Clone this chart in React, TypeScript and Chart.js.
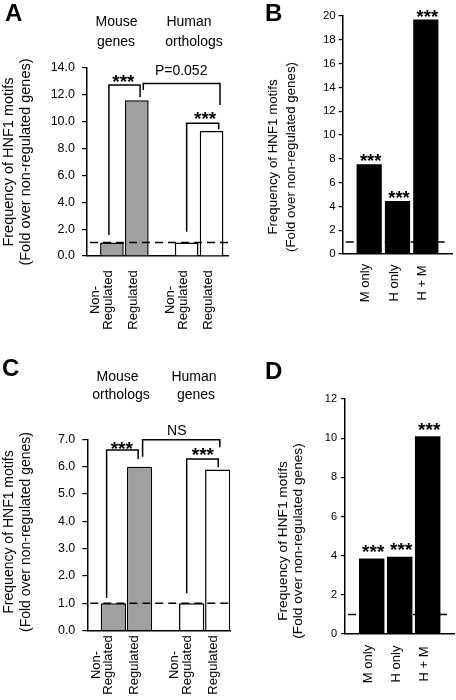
import React, { useEffect, useRef } from "react";
import { Chart, registerables } from "chart.js";

Chart.register(...registerables);

const FONT = "'Liberation Sans', Arial, Helvetica, sans-serif";

// ---------- data ----------
const Y_TITLE = ["Frequency of HNF1 motifs", "(Fold over non-regulated genes)"];
const REFERENCE_FOLD = 1; // dashed line

// Panel A: mouse genes vs human orthologs
const A_HEADINGS = [["Mouse", "genes"], ["Human", "orthologs"]];
const A_LABELS = [["Non-", "Regulated"], ["Regulated"], ["Non-", "Regulated"], ["Regulated"]];
const A_SLOTS = [1, 2, 4, 5];
const A_VALUES = [1.0, 11.6, 1.0, 9.3];
const A_FILLS = ["#a0a0a0", "#a0a0a0", "#ffffff", "#ffffff"];

// Panel B: genes with motifs in mouse only, human only, both
const B_LABELS = [["M only"], ["H only"], ["H + M"]];
const B_SLOTS = [1, 2, 3];
const B_VALUES = [7.55, 4.45, 19.7];

// Panel C: mouse orthologs vs human genes
const C_HEADINGS = [["Mouse", "orthologs"], ["Human", "genes"]];
const C_LABELS = [["Non-", "Regulated"], ["Regulated"], ["Non-", "Regulated"], ["Regulated"]];
const C_SLOTS = [1, 2, 4, 5];
const C_VALUES = [1.0, 6.0, 1.0, 5.9];
const C_FILLS = ["#a0a0a0", "#a0a0a0", "#ffffff", "#ffffff"];

// Panel D
const D_LABELS = [["M only"], ["H only"], ["H + M"]];
const D_SLOTS = [1, 2, 3];
const D_VALUES = [3.85, 3.95, 10.1];

const STARS = "***";

// ---------- panel specs (layout / annotations) ----------
type Bracket = { x1: number; x2: number; top: number; lb: number; rb: number };
type Note = { text: string; x: number; y: number; dy?: number; dx?: number; size: number; bold?: boolean };

const W = 456;
const H = 700;

const SPECS: any[] = [
  {
    letter: "A", letterX: 5, letterY: 21,
    area: { left: 87, right: 228, top: 68, bottom: 256 },
    xMin: 0, xMax: 5.66, yMax: 14, yStep: 2, dec: 1,
    slots: A_SLOTS, values: A_VALUES, fills: A_FILLS, borderWidth: 1.5, barPct: 0.95,
    labels: A_LABELS, labelSize: 13, labelCY: 300, labelGap: 12.5, labelDx: 0,
    headings: A_HEADINGS, headX: [[116.5, 116], [189, 194]], headY: [26, 46], headSize: 14,
    titleX: [12.5, 30], titleCY: 162, titleSize: 14.5,
    tickSize: 12.5, tickLen: 5, tickPad: 7,
    dashInset: 0,
    brackets: [
      { x1: 0.88, x2: 2.13, top: 12.73, lb: 1.56, rb: 11.84 },
      { x1: 2.26, x2: 5.34, top: 12.84, lb: 12.36, rb: 11.24 },
      { x1: 4.0, x2: 5.29, top: 9.88, lb: 1.81, rb: 9.43 },
    ] as Bracket[],
    notes: [
      { text: STARS, x: 1.46, y: 12.51, size: 19, bold: true },
      { text: "P=0.052", x: 3.78, y: 13.48, size: 14 },
      { text: STARS, x: 4.74, y: 9.75, size: 19, bold: true },
    ] as Note[],
  },
  {
    letter: "B", letterX: 265, letterY: 21,
    area: { left: 342.7, right: 452.7, top: 16, bottom: 254 },
    xMin: 0.064, xMax: 3.95, yMax: 20, yStep: 2, dec: 0,
    slots: B_SLOTS, values: B_VALUES, fills: ["#000", "#000", "#000"], borderWidth: 0, barPct: 0.89,
    labels: B_LABELS, labelSize: 13, labelCY: 283, labelGap: 12.5, labelDx: 0,
    headings: [], headX: [], headY: [], headSize: 14,
    titleX: [277.3, 295.2], titleCY: 157, titleSize: 13.3,
    tickSize: 11.5, tickLen: 4, tickPad: 3,
    dashInset: 7,
    brackets: [] as Bracket[],
    notes: B_SLOTS.map((s, i) => ({ text: STARS, x: s, y: B_VALUES[i], dy: 3, dx: 1.5, size: 18.5, bold: true })) as Note[],
  },
  {
    letter: "C", letterX: 2, letterY: 376,
    area: { left: 87.3, right: 230, top: 439.3, bottom: 630.7 },
    xMin: 0, xMax: 5.47, yMax: 7, yStep: 1, dec: 1,
    slots: C_SLOTS, values: C_VALUES, fills: C_FILLS, borderWidth: 1.5, barPct: 0.97,
    labels: C_LABELS, labelSize: 13, labelCY: 665, labelGap: 12.5, labelDx: -1,
    headings: C_HEADINGS, headX: [[117.5, 121], [194, 196]], headY: [381, 399], headSize: 14,
    titleX: [12.5, 30], titleCY: 532, titleSize: 14,
    tickSize: 12.5, tickLen: 5, tickPad: 7,
    dashInset: 0,
    brackets: [
      { x1: 0.74, x2: 1.95, top: 6.61, lb: 1.2, rb: 6.27 },
      { x1: 2.12, x2: 5.08, top: 6.98, lb: 6.36, rb: 6.71 },
      { x1: 3.81, x2: 5.02, top: 6.28, lb: 1.37, rb: 5.98 },
    ] as Bracket[],
    notes: [
      { text: STARS, x: 1.32, y: 6.44, size: 19, bold: true },
      { text: "NS", x: 3.43, y: 7.16, size: 14 },
      { text: STARS, x: 4.43, y: 6.19, size: 19, bold: true },
    ] as Note[],
  },
  {
    letter: "D", letterX: 265, letterY: 379,
    area: { left: 345, right: 454, top: 399, bottom: 634 },
    xMin: 0.046, xMax: 3.94, yMax: 12, yStep: 2, dec: 0,
    slots: D_SLOTS, values: D_VALUES, fills: ["#000", "#000", "#000"], borderWidth: 0, barPct: 0.91,
    labels: D_LABELS, labelSize: 13, labelCY: 664, labelGap: 12.5, labelDx: 0,
    headings: [], headX: [], headY: [], headSize: 14,
    titleX: [287, 302], titleCY: 541, titleSize: 13.7,
    tickSize: 11, tickLen: 4, tickPad: 4,
    dashInset: 7,
    brackets: [] as Bracket[],
    notes: D_SLOTS.map((s, i) => ({ text: STARS, x: s, y: D_VALUES[i], dy: -0.5, dx: 1.5, size: 19, bold: true })) as Note[],
  },
];

function annotations(s: any) {
  return {
    id: "annot" + s.letter,
    afterDatasetsDraw(chart: any) {
      const { ctx, chartArea, scales } = chart;
      const yy = scales.y.getPixelForValue(REFERENCE_FOLD);
      ctx.save();
      ctx.strokeStyle = "#000";
      ctx.lineWidth = 1.5;
      ctx.setLineDash([8, 5]);
      ctx.beginPath();
      ctx.moveTo(chartArea.left + 3, yy);
      ctx.lineTo(chartArea.right - s.dashInset, yy);
      ctx.stroke();
      ctx.restore();
    },
    afterDraw(chart: any) {
      const { ctx, scales } = chart;
      const x = scales.x;
      const y = scales.y;
      ctx.save();
      ctx.fillStyle = "#000";
      ctx.strokeStyle = "#000";
      // brackets
      ctx.lineWidth = 1.5;
      ctx.setLineDash([]);
      s.brackets.forEach((b: Bracket) => {
        const x1 = x.getPixelForValue(b.x1);
        const x2 = x.getPixelForValue(b.x2);
        ctx.beginPath();
        ctx.moveTo(x1, y.getPixelForValue(b.lb));
        ctx.lineTo(x1, y.getPixelForValue(b.top));
        ctx.lineTo(x2, y.getPixelForValue(b.top));
        ctx.lineTo(x2, y.getPixelForValue(b.rb));
        ctx.stroke();
      });
      // notes (stars, p-values)
      ctx.textAlign = "center";
      ctx.textBaseline = "alphabetic";
      s.notes.forEach((n: Note) => {
        ctx.font = `${n.bold ? "bold " : ""}${n.size}px ${FONT}`;
        ctx.fillText(n.text, x.getPixelForValue(n.x) + (n.dx || 0), y.getPixelForValue(n.y) + (n.dy || 0));
      });
      // rotated category labels
      ctx.font = `${s.labelSize}px ${FONT}`;
      s.labels.forEach((lines: string[], i: number) => {
        const px = x.getPixelForValue(s.slots[i]) + s.labelDx;
        lines.forEach((t: string, j: number) => {
          const off = (lines.length - 1 - j) * s.labelGap;
          ctx.save();
          ctx.translate(px - off, s.labelCY);
          ctx.rotate(-Math.PI / 2);
          ctx.fillText(t, 0, 0);
          ctx.restore();
        });
      });
      // group headings
      ctx.font = `${s.headSize}px ${FONT}`;
      s.headings.forEach((lines: string[], g: number) => {
        lines.forEach((t: string, j: number) => {
          ctx.fillText(t, s.headX[g][j], s.headY[j]);
        });
      });
      // y title
      ctx.font = `${s.titleSize}px ${FONT}`;
      Y_TITLE.forEach((t, j) => {
        ctx.save();
        ctx.translate(s.titleX[j], s.titleCY);
        ctx.rotate(-Math.PI / 2);
        ctx.fillText(t, 0, 0);
        ctx.restore();
      });
      // panel letter
      ctx.textAlign = "left";
      ctx.font = `bold 24px ${FONT}`;
      ctx.fillText(s.letter, s.letterX, s.letterY);
      ctx.restore();
    },
  };
}

function makeConfig(s: any): any {
  const YW = 40;
  const XH = 10;
  return {
    type: "bar",
    data: {
      datasets: [
        {
          data: s.slots.map((v: number, i: number) => ({ x: v, y: s.values[i] })),
          backgroundColor: s.fills,
          borderColor: "#000",
          borderWidth: s.borderWidth,
          barPercentage: s.barPct,
          categoryPercentage: 1,
        },
      ],
    },
    options: {
      animation: false,
      responsive: false,
      devicePixelRatio: 1,
      events: [],
      layout: {
        padding: {
          left: s.area.left - YW,
          right: W - s.area.right,
          top: s.area.top,
          bottom: H - s.area.bottom - XH,
        },
      },
      plugins: { legend: { display: false }, tooltip: { enabled: false } },
      scales: {
        x: {
          type: "linear",
          offset: false,
          min: s.xMin,
          max: s.xMax,
          afterBuildTicks: (sc: any) => {
            sc.ticks = s.slots.map((v: number) => ({ value: v }));
          },
          afterFit: (sc: any) => {
            sc.height = XH;
          },
          grid: { display: false, offset: false },
          ticks: { display: false },
          border: { display: true, color: "#000", width: 1.5 },
        },
        y: {
          min: 0,
          max: s.yMax,
          afterFit: (sc: any) => {
            sc.width = YW;
          },
          ticks: {
            stepSize: s.yStep,
            color: "#000",
            padding: s.tickPad,
            font: { family: FONT, size: s.tickSize },
            callback: (v: any) => Number(v).toFixed(s.dec),
          },
          grid: {
            display: true,
            drawOnChartArea: false,
            drawTicks: true,
            tickLength: s.tickLen,
            color: "#000",
            lineWidth: 1.2,
          },
          border: { display: true, color: "#000", width: 1.5 },
        },
      },
    },
    plugins: [annotations(s)],
  };
}

function Panel({ spec }: { spec: any }) {
  const ref = useRef<HTMLCanvasElement | null>(null);
  useEffect(() => {
    if (!ref.current) return;
    const chart = new Chart(ref.current, makeConfig(spec));
    return () => chart.destroy();
  }, [spec]);
  return (
    <canvas
      ref={ref}
      width={W}
      height={H}
      style={{ position: "absolute", left: 0, top: 0, width: W, height: H }}
    />
  );
}

export default function App() {
  return (
    <div style={{ position: "absolute", left: 0, top: 0, width: W, height: H, background: "#fff" }}>
      {SPECS.map((s) => (
        <Panel key={s.letter} spec={s} />
      ))}
    </div>
  );
}
